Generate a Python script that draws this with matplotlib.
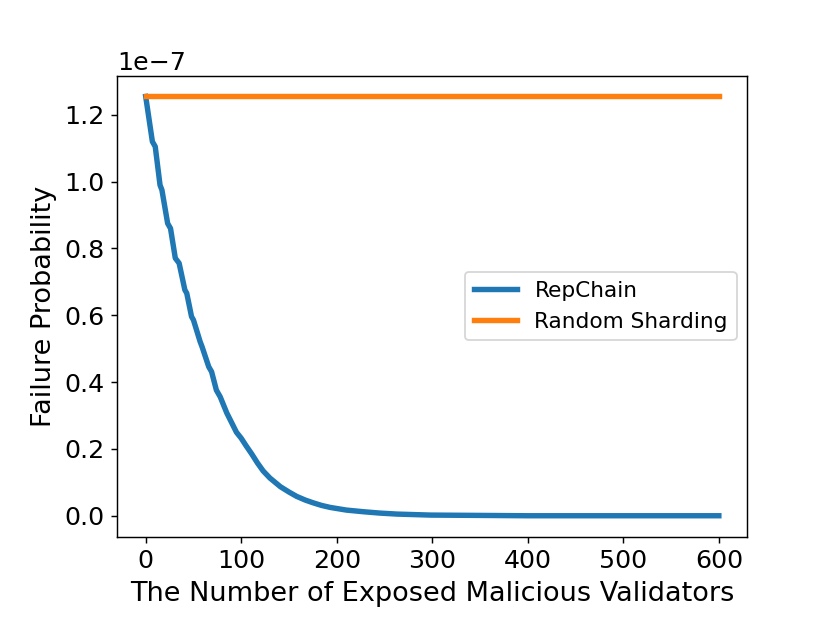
import matplotlib
matplotlib.use("Agg")
import matplotlib.pyplot as plt

# Data (probability in units of 1e-7)
rep_x = [0, 7, 10, 15, 17, 23, 26, 31, 35, 41, 43, 48, 50, 57, 59, 66, 69, 74, 78,
         85, 88, 95, 100, 105, 111, 117, 123, 130, 141, 150, 158, 167, 175, 184, 193,
         210, 228, 245, 263, 298, 350, 400, 500, 600]
rep_y = [1.255, 1.12, 1.105, 0.99, 0.975, 0.875, 0.86, 0.771, 0.756, 0.676, 0.666,
         0.596, 0.586, 0.521, 0.506, 0.446, 0.431, 0.376, 0.356, 0.307, 0.29, 0.25,
         0.232, 0.21, 0.185, 0.158, 0.134, 0.113, 0.087, 0.071, 0.058, 0.047, 0.039,
         0.031, 0.025, 0.017, 0.012, 0.008, 0.005, 0.002, 0.001, 0.0, 0.0, 0.0]
rand_x = [0, 600]
rand_y = [1.255, 1.255]
scale = 1e-7

plt.rcParams['xtick.labelsize'] = 14
plt.rcParams['ytick.labelsize'] = 14

fig = plt.figure(figsize=(830 / 130, 623 / 130), dpi=130)
ax = fig.add_subplot(111)
fig.subplots_adjust(left=0.141, right=0.9006, bottom=0.1385, top=0.8788)

ax.plot(rep_x, [v * scale for v in rep_y], color='#1f77b4', lw=3, label='RepChain')
ax.plot(rand_x, [v * scale for v in rand_y], color='#ff7f0e', lw=3, label='Random Sharding')

ax.set_xlabel('The Number of Exposed Malicious Validators', fontsize=15)
ax.set_ylabel('Failure Probability', fontsize=15)
ax.set_xticks([0, 100, 200, 300, 400, 500, 600])
ax.set_yticks([0, 0.2e-7, 0.4e-7, 0.6e-7, 0.8e-7, 1.0e-7, 1.2e-7])
ax.legend(loc='center right', fontsize=12)

fig.savefig('out.png', dpi=130)
